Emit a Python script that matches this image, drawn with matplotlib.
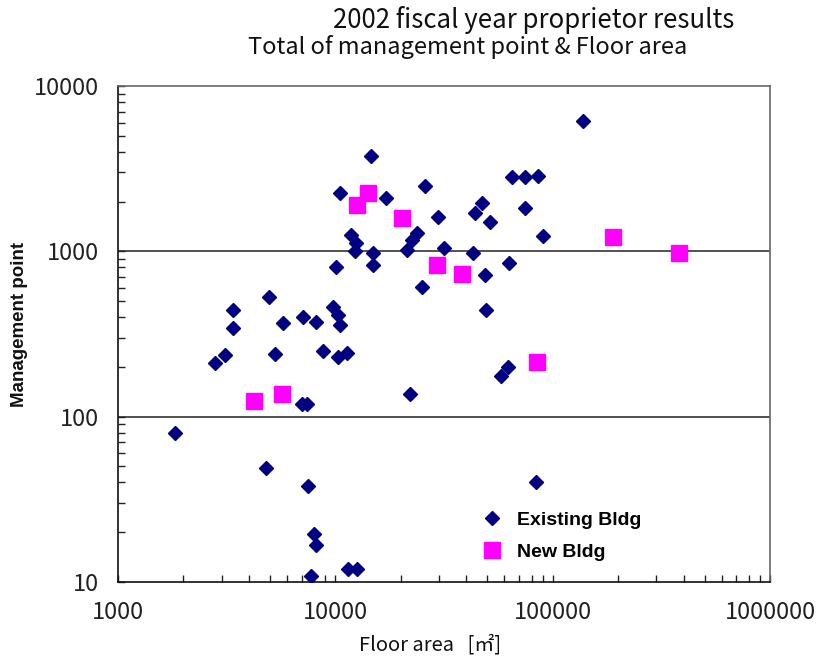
import matplotlib
matplotlib.use("Agg")
import matplotlib.pyplot as plt
from matplotlib.ticker import LogLocator, FixedLocator, FixedFormatter, NullFormatter

# FY2002 proprietor results: floor area [m2] vs total management points
existing_area = [1830, 2795, 3107, 3372, 3390, 4955, 4783, 5278, 5765, 7000,
                 7380, 7080, 8150, 7455, 7980, 8150, 7730, 8810, 9790, 10070,
                 10320, 10500, 10310, 11360, 11480, 12620, 10510, 11770, 12450, 12330,
                 14960, 14960, 14600, 17110, 25870, 29570, 23660, 22600, 21430, 31700,
                 24950, 22070, 43150, 47200, 43950, 51520, 48860, 49350, 62990, 57930,
                 62550, 83800, 64850, 74650, 85370, 74650, 90600, 138400]
existing_point = [80, 212, 236, 442, 342, 527, 49, 238, 367, 119,
                  119, 403, 376, 38, 19.4, 16.7, 10.9, 250, 463, 808,
                  412, 359, 231, 242, 11.9, 11.9, 2240, 1256, 1129, 1005,
                  974, 827, 3776, 2095, 2480, 1608, 1298, 1172, 1020, 1044,
                  606, 137, 974, 1960, 1700, 1513, 720, 442, 847, 175,
                  201, 40, 2806, 2806, 2858, 1823, 1245, 6176]

new_area = [4240, 5700, 12540, 14190, 20210, 29450, 38200, 84500, 190200, 382700]
new_point = [124, 137, 1909, 2246, 1600, 827, 730, 215, 1217, 974]

x_ticks = [1000, 10000, 100000, 1000000]
x_labels = ["1000", "10000", "100000", "1000000"]
y_ticks = [10, 100, 1000, 10000]
y_labels = ["10", "100", "1000", "10000"]

label_font = ["Noto Sans CJK JP", "DejaVu Sans"]
bold_font = ["Liberation Sans", "DejaVu Sans"]

fig = plt.figure(figsize=(8.18, 6.6), dpi=100)
ax = fig.add_axes([0.1443, 0.1182, 0.797, 0.7515])

ax.set_xscale("log")
ax.set_yscale("log")
ax.set_xlim(1000, 1000000)
ax.set_ylim(10, 10000)

# horizontal reference lines at 100 and 1000
for yv in y_ticks[1:3]:
    ax.axhline(yv, color="#333333", lw=1.2, zorder=1)

ax.plot(existing_area, existing_point, linestyle="none", marker="D", ms=7.4,
        color="#000080", label="Existing Bldg", zorder=3)
ax.plot(new_area, new_point, linestyle="none", marker="s", ms=12,
        color="#ff00ff", label="New Bldg", zorder=3)

ax.xaxis.set_major_locator(FixedLocator(x_ticks))
ax.xaxis.set_major_formatter(FixedFormatter(x_labels))
ax.yaxis.set_major_locator(FixedLocator(y_ticks))
ax.yaxis.set_major_formatter(FixedFormatter(y_labels))
ax.xaxis.set_minor_locator(LogLocator(base=10, subs=range(2, 10)))
ax.yaxis.set_minor_locator(LogLocator(base=10, subs=range(2, 10)))
ax.xaxis.set_minor_formatter(NullFormatter())
ax.yaxis.set_minor_formatter(NullFormatter())
ax.tick_params(which="both", direction="in", length=5, width=1, color="#222222",
               top=False, right=False)
ax.tick_params(which="major", labelsize=17, pad=14, labelcolor="#222222")
for lab in ax.get_xticklabels() + ax.get_yticklabels():
    lab.set_family(label_font)

for side in ("left", "bottom"):
    ax.spines[side].set_color("#111111")
    ax.spines[side].set_linewidth(1.2)
for side in ("top", "right"):
    ax.spines[side].set_color("#666666")
    ax.spines[side].set_linewidth(1.2)

fig.text(0.653, 0.970, "2002 fiscal year proprietor results", ha="center", va="center",
         fontsize=18.6, family=label_font, color="#111111")
fig.text(0.572, 0.929, "Total of management point & Floor area", ha="center", va="center",
         fontsize=17, family=label_font, color="#111111")

fig.text(0.526, 0.023, "Floor area   [㎡]", ha="center", va="center",
         fontsize=14.5, family=label_font, color="#111111")
fig.text(0.024, 0.508, "Management point", ha="center", va="center", rotation=90,
         fontsize=13.5, family=bold_font, weight="bold", color="#111111")

leg = ax.legend(loc="upper left", bbox_to_anchor=(0.532, 0.158), frameon=False,
                handletextpad=0.3, labelspacing=0.75, borderaxespad=0,
                prop={"family": bold_font, "size": 14, "weight": "bold"})

fig.savefig("out.png", dpi=100, facecolor="white")
